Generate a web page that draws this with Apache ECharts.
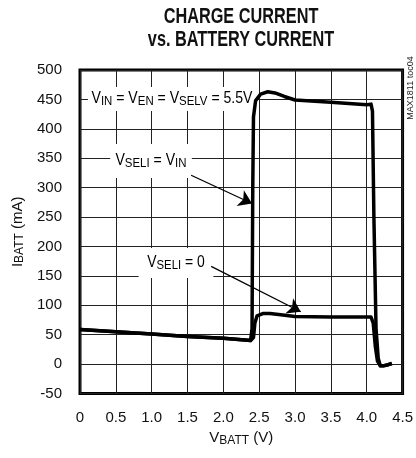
<!DOCTYPE html>
<html><head><meta charset="utf-8">
<script src="https://cdn.jsdelivr.net/npm/echarts@6/dist/echarts.min.js"></script>
<style>html,body{margin:0;padding:0;background:#fff}#c{width:416px;height:458px}</style>
</head><body><div id="c"></div>
<script>
// ---- data ----
const xTickLabels = ['0','0.5','1.0','1.5','2.0','2.5','3.0','3.5','4.0','4.5'];
// VSELI = VIN curve
const vbattHigh = [0, 0.5, 1.0, 1.5, 2.0, 2.3, 2.38, 2.40, 2.40, 2.41, 2.42, 2.45, 2.52, 2.62, 2.72, 2.85, 3.0, 3.5, 4.0, 4.06, 4.08, 4.10, 4.13, 4.16, 4.19, 4.23, 4.3, 4.35];
const ibattHigh = [59, 55, 51, 47, 44, 41, 40, 37, 60, 300, 420, 448, 459, 463, 461, 455, 449, 445, 441, 442, 430, 250, 60, 10, -3, -3, -1, 1];
// VSELI = 0 curve
const vbattLow = [0, 0.5, 1.0, 1.5, 2.0, 2.3, 2.38, 2.40, 2.42, 2.44, 2.47, 2.55, 2.65, 2.8, 3.0, 3.5, 4.0, 4.06, 4.09, 4.12, 4.15, 4.19, 4.23, 4.3, 4.35];
const ibattLow = [59, 55, 51, 47, 44, 41, 40, 37, 45, 70, 82, 86, 86, 84, 81, 80, 80, 80, 70, 30, 5, -3, -3, -1, 1];
// annotation arrows [from, to] in data units
const arrowHigh = [[1.55, 321], [2.40, 273]];
const arrowLow = [[1.83, 166], [3.08, 89]];

const FF = '"Liberation Sans", Arial, sans-serif';
const zip = (xs, ys) => xs.map((x, i) => [x, ys[i]]);
const subRich = {
  a: {fontFamily: FF, fontSize: 16, color: '#111'},
  s: {fontFamily: FF, fontSize: 13, color: '#111', padding: [5, 0, 0, 0]}
};
const axRich = {
  a: {fontFamily: FF, fontSize: 15, color: '#111'},
  s: {fontFamily: FF, fontSize: 12, color: '#111', padding: [5, 0, 0, 0]}
};

const chart = echarts.init(document.getElementById('c'), null, {renderer: 'canvas'});
chart.setOption({
  animation: false,
  backgroundColor: '#fff',
  grid: {left: 80, right: 13, top: 70, bottom: 64.5, show: true, borderColor: '#000', borderWidth: 3, backgroundColor: 'transparent'},
  xAxis: {
    type: 'value', min: 0, max: 4.5, interval: 0.5,
    axisLine: {show: false}, axisTick: {show: false},
    splitLine: {show: true, lineStyle: {color: '#222', width: 1}},
    axisLabel: {margin: 17, fontFamily: FF, fontSize: 15, color: '#111',
      formatter: v => xTickLabels[Math.round(v / 0.5)]},
    name: '{a|V}{s|BATT}{a| (V)}', nameLocation: 'middle', nameGap: 33,
    nameTextStyle: {rich: axRich}
  },
  yAxis: {
    type: 'value', min: -50, max: 500, interval: 50,
    axisLine: {show: false}, axisTick: {show: false},
    splitLine: {show: true, lineStyle: {color: '#222', width: 1}},
    axisLabel: {margin: 18, fontFamily: FF, fontSize: 15, color: '#111'},
    name: '{a|I}{s|BATT}{a| (mA)}', nameLocation: 'middle', nameGap: 54,
    nameTextStyle: {rich: axRich}
  },
  series: [
    {type: 'line', data: zip(vbattHigh, ibattHigh), showSymbol: false, smooth: false,
     lineStyle: {color: '#000', width: 3.5, join: 'round'}, z: 5},
    {type: 'line', data: zip(vbattLow, ibattLow), showSymbol: false, smooth: false,
     lineStyle: {color: '#000', width: 3.5, join: 'round'}, z: 5},
    {type: 'lines', coordinateSystem: 'cartesian2d', z: 6,
     symbol: ['none', 'arrow'], symbolSize: [8, 13],
     lineStyle: {color: '#000', width: 1.3, opacity: 1},
     data: [{coords: arrowHigh}, {coords: arrowLow}]}
  ],
  graphic: [
    {type: 'text', z: 4, x: 241, y: 17, scaleX: 0.74, style: {
      text: 'CHARGE CURRENT', fontFamily: FF, fontWeight: 'bold', fontSize: 22, fill: '#111',
      align: 'center', verticalAlign: 'middle'}},
    {type: 'text', z: 4, x: 241, y: 40, scaleX: 0.74, style: {
      text: 'vs. BATTERY CURRENT', fontFamily: FF, fontWeight: 'bold', fontSize: 22, fill: '#111',
      align: 'center', verticalAlign: 'middle'}},
    {type: 'text', z: 4, x: 172, y: 99, scaleX: 0.88, style: {
      text: '{a|V}{s|IN}{a| = V}{s|EN}{a| = V}{s|SELV}{a| = 5.5V}', rich: subRich,
      align: 'center', verticalAlign: 'middle', backgroundColor: '#fff', padding: [3, 4]}},
    {type: 'text', z: 4, x: 151, y: 161, scaleX: 0.88, style: {
      text: '{a|V}{s|SELI}{a| = V}{s|IN}', rich: subRich,
      align: 'center', verticalAlign: 'middle', backgroundColor: '#fff', padding: [8, 6]}},
    {type: 'text', z: 4, x: 176, y: 263, scaleX: 0.87, style: {
      text: '{a|V}{s|SELI}{a| = 0}', rich: subRich,
      align: 'center', verticalAlign: 'middle', backgroundColor: '#fff', padding: [6, 10]}},
    {type: 'text', z: 4, x: 411, y: 88, rotation: Math.PI / 2, style: {
      text: 'MAX1811 toc04', fontFamily: FF, fontSize: 9, fill: '#222',
      align: 'center', verticalAlign: 'middle'}}
  ]
});
</script></body></html>
